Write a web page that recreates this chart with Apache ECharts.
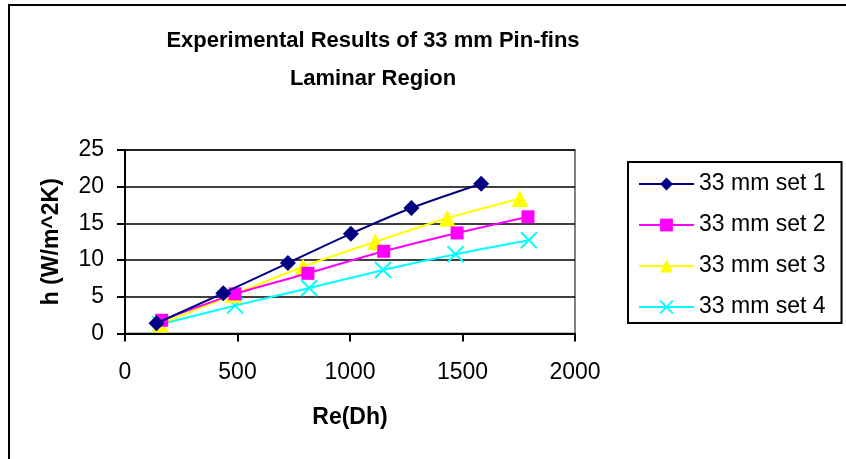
<!DOCTYPE html>
<html>
<head>
<meta charset="utf-8">
<script src="https://cdn.jsdelivr.net/npm/echarts@6/dist/echarts.min.js"></script>
<style>html,body{margin:0;padding:0;background:#fff}#c{width:846px;height:459px}</style>
</head>
<body>
<div id="c"></div>
<script>
var titleLines = ['Experimental Results of 33 mm Pin-fins', 'Laminar Region'];
var xName = 'Re(Dh)';
var yName = 'h (W/m^2K)';
var seriesNames = ['33 mm set 1', '33 mm set 2', '33 mm set 3', '33 mm set 4'];
var set1Re = [140, 437, 724, 1004, 1273, 1583];
var set1H  = [1.4, 5.5, 9.6, 13.6, 17.1, 20.4];
var set2Re = [163, 489, 813, 1150, 1476, 1791];
var set2H  = [1.8, 5.4, 8.2, 11.2, 13.7, 15.9];
var set3Re = [156, 482, 791, 1113, 1432, 1755];
var set3H  = [1.3, 5.3, 9.1, 12.5, 15.7, 18.4];
var set4Re = [156, 489, 819, 1147, 1469, 1795];
var set4H  = [1.25, 3.8, 6.2, 8.65, 10.8, 12.7];

function pairs(xs, ys) { return xs.map(function (x, i) { return [x, ys[i]]; }); }

var FONT = '"Liberation Sans", Arial, sans-serif';
var colors = ['#000080', '#FF00FF', '#FFFF00', '#00FFFF'];
var symbols = ['diamond', 'rect', 'triangle', 'path://M0,0L10,10M10,0L0,10'];
var sizes = [16, 13, 17, 16];
var datas = [pairs(set1Re, set1H), pairs(set2Re, set2H), pairs(set3Re, set3H), pairs(set4Re, set4H)];

var series = seriesNames.map(function (n, i) {
  return {
    name: n, type: 'line', data: datas[i], smooth: 0.25,
    symbol: symbols[i], symbolSize: sizes[i],
    lineStyle: { color: colors[i], width: 2 },
    itemStyle: i === 3 ? { color: colors[i], borderColor: colors[i], borderWidth: 2 } : { color: colors[i], borderWidth: 0 },
    emphasis: { disabled: true },
    z: 10 - i
  };
});

var chart = echarts.init(document.getElementById('c'));
chart.setOption({
  animation: false,
  textStyle: { fontFamily: FONT },
  title: {
    text: titleLines.join('\n'),
    left: 373, top: 22, textAlign: 'center', padding: 0,
    textStyle: { fontFamily: FONT, fontSize: 22, fontWeight: 'bold', color: '#000', lineHeight: 38 }
  },
  graphic: [{
    type: 'rect', shape: { x: 9, y: 5, width: 900, height: 500 },
    style: { fill: 'none', stroke: '#000', lineWidth: 2 }, silent: true, z: -1
  }],
  legend: {
    orient: 'vertical', left: 628, top: 162,
    itemWidth: 55, itemHeight: 16, itemGap: 17,
    padding: [10, 16, 4, 10],
    borderColor: '#000', borderWidth: 2,
    textStyle: { fontFamily: FONT, fontSize: 23, color: '#000', lineHeight: 24 },
    data: seriesNames
  },
  grid: {
    left: 125, right: 271, top: 150, bottom: 125.5,
    show: true, borderColor: '#808080', borderWidth: 2, backgroundColor: '#fff'
  },
  xAxis: {
    type: 'value', min: 0, max: 2000, interval: 500,
    name: xName, nameLocation: 'middle', nameGap: 73,
    nameTextStyle: { fontFamily: FONT, fontSize: 23, fontWeight: 'bold', color: '#000' },
    axisLine: { lineStyle: { color: '#000', width: 2 } },
    axisTick: { show: true, length: 8, lineStyle: { color: '#000', width: 2 } },
    axisLabel: { fontFamily: FONT, fontSize: 23, color: '#000', margin: 28, formatter: function (v) { return String(v); } },
    splitLine: { show: false }
  },
  yAxis: {
    type: 'value', min: 0, max: 25, interval: 5,
    name: yName, nameLocation: 'middle', nameGap: 62, nameRotate: 90,
    nameTextStyle: { fontFamily: FONT, fontSize: 23, fontWeight: 'bold', color: '#000' },
    axisLine: { show: true, lineStyle: { color: '#000', width: 2 } },
    axisTick: { show: true, length: 8, lineStyle: { color: '#000', width: 2 } },
    axisLabel: { fontFamily: FONT, fontSize: 23, color: '#000', margin: 21, formatter: function (v) { return String(v); } },
    splitLine: { show: true, lineStyle: { color: '#000', width: 1.5 } }
  },
  series: series
});
</script>
</body>
</html>
